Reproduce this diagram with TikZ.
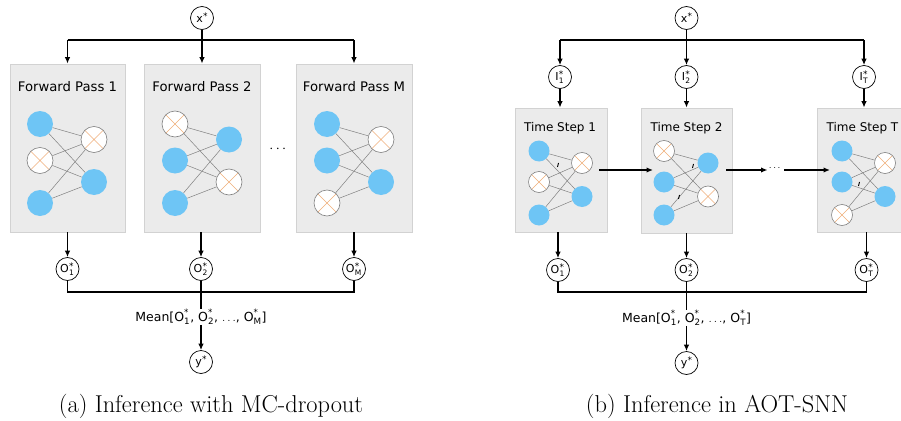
\documentclass[tikz,border=0pt]{standalone}
\usepackage{amsmath}
\usepackage{fontspec}
\usetikzlibrary{arrows.meta}
\newfontfamily\dv{DejaVu Sans}
\definecolor{boxfill}{HTML}{EBEBEB}
\definecolor{boxline}{HTML}{D2D2D2}
\definecolor{neuron}{HTML}{6EC5F5}
\definecolor{dropx}{HTML}{F0AE78}
\definecolor{edgegray}{HTML}{808080}
\newcommand\starlab[2]{#1\kern0.3pt\rlap{\raisebox{3.6pt}{\fontsize{9}{9}\selectfont *}}\raisebox{-2.6pt}{\fontsize{7.5}{8}\selectfont #2}\kern0.8pt}
\newcommand\staronly[1]{#1\kern0.3pt\raisebox{3.2pt}{\fontsize{9}{9}\selectfont *}}
\newcommand\mathlab[2]{$\text{#1}^{\text{*}}_{\text{#2}}$}
\begin{document}
\begin{tikzpicture}[x=1pt,y=-1pt,
  every node/.style={inner sep=0pt},
  conn/.style={line width=1.3pt},
  arr/.style={conn,-{Latex[length=6.5pt,width=5.5pt]}},
  io/.style={circle,draw,line width=0.7pt,minimum size=23pt,font=\fontsize{11}{13}\dv},
  panelbox/.style={rectangle,draw=boxline,fill=boxfill,line width=0.8pt},
  titlea/.style={font=\fontsize{13.2}{15}\dv},
  titleb/.style={font=\fontsize{12}{14}\dv},
  on/.style={circle,fill=neuron},
  off/.style={circle,draw=edgegray,fill=white,line width=0.6pt,
    path picture={\draw[dropx,line width=0.6pt]
      (path picture bounding box.north west) -- (path picture bounding box.south east)
      (path picture bounding box.north east) -- (path picture bounding box.south west);}},
  na/.style={minimum size=26pt},
  nb/.style={minimum size=21pt},
  edge/.style={draw=edgegray,line width=0.5pt},
  tickmark/.style={line width=0.9pt},
  meanlab/.style={font=\fontsize{12.5}{14}\dv},
  caption/.style={font=\fontsize{24.4}{29}\selectfont,anchor=base}]
\useasboundingbox (0,0) rectangle (901,420);

% ================= panel (a) =================
\node[io] (ax) at (202,18) {\staronly{x}};
\coordinate (asplit) at (202,40);
\coordinate (as1) at (67.5,40);
\coordinate (as3) at (354,40);
\node[panelbox,minimum width=115pt,minimum height=168pt] (ab1) at (67.5,148) {};
\node[panelbox,minimum width=116pt,minimum height=168pt] (ab2) at (202,148) {};
\node[panelbox,minimum width=116pt,minimum height=168pt] (ab3) at (354,148) {};
\node[titlea] (at1) at (67.5,87) {Forward Pass 1};
\node[titlea] (at2) at (202,87) {Forward Pass 2};
\node[titlea] (at3) at (354,87) {Forward Pass M};
\draw[conn] (ax) -- (asplit);
\draw[conn] (as1) -- (as3);
\draw[arr] (as1) -- (ab1);
\draw[arr] (asplit) -- (ab2);
\draw[arr] (as3) -- (ab3);

\foreach \p/\lx/\rx/\sa/\sb/\sc/\sd/\se in
  {a1/40/94/on/off/on/off/on, a2/175/229/off/on/on/on/off, a3/327/381/on/on/off/off/on}{
  \node[\sa,na] (\p l1) at (\lx,124) {};
  \node[\sb,na] (\p l2) at (\lx,160.5) {};
  \node[\sc,na] (\p l3) at (\lx,203) {};
  \node[\sd,na] (\p r1) at (\rx,139.5) {};
  \node[\se,na] (\p r2) at (\rx,182) {};
  \foreach \i in {1,2,3}{\foreach \j in {1,2}{\draw[edge] (\p l\i) -- (\p r\j);}}
}
\node (adots) at (279,149) {\fontsize{14}{14}\selectfont$\cdots$};

\node[io] (ao1) at (67.5,269) {\starlab{O}{1}};
\node[io] (ao2) at (201,269) {\starlab{O}{2}};
\node[io] (ao3) at (354,269) {\starlab{O}{M}};
\draw[arr] (ab1) -- (ao1);
\draw[arr] (ab2.south -| ao2) -- (ao2);
\draw[arr] (ab3) -- (ao3);
\coordinate (aj1) at (67.5,292);
\coordinate (aj3) at (354,292);
\draw[conn] (ao1) -- (aj1) -- (aj3) -- (ao3);
\node[meanlab] (amean) at (201,317) {Mean[\mathlab{O}{1}, \mathlab{O}{2}, $\ldots$, \mathlab{O}{M}]};
\draw[conn] (ao2) -- (amean);
\node[io] (ay) at (201,362) {\staronly{y}};
\draw[arr] (amean) -- (ay);
\node[caption] (capa) at (211,412) {(a) Inference with MC-dropout};

% ================= panel (b) =================
\node[io] (bx) at (686.5,18) {\staronly{x}};
\coordinate (bsplit) at (686.5,40);
\coordinate (bs1) at (560,40);
\coordinate (bs3) at (864,40);
\draw[conn] (bx) -- (bsplit);
\draw[conn] (bs1) -- (bs3);
\node[io] (bi1) at (560,77) {\starlab{I}{1}};
\node[io] (bi2) at (686.5,77) {\starlab{I}{2}};
\node[io] (bi3) at (864,77) {\starlab{I}{T}};
\draw[arr] (bs1) -- (bi1);
\draw[arr] (bsplit) -- (bi2);
\draw[arr] (bs3) -- (bi3);
\node[panelbox,minimum width=92pt,minimum height=124pt] (bb1) at (561,170) {};
\node[panelbox,minimum width=91pt,minimum height=125pt] (bb2) at (686.5,170.5) {};
\node[panelbox,minimum width=94pt,minimum height=124pt] (bb3) at (864,170) {};
\draw[arr] (bi1) -- (bi1 |- bb1.north);
\draw[arr] (bi2) -- (bb2);
\draw[arr] (bi3) -- (bb3);
\node[titleb] (bt1) at (560,128) {Time Step 1};
\node[titleb] (bt2) at (686.5,128) {Time Step 2};
\node[titleb] (bt3) at (862.5,128) {Time Step T};

\foreach \p/\lx/\rx/\sa/\sb/\sc/\sd/\se in
  {b1/539/582/on/off/on/off/on, b2/664/708/off/on/on/on/off, b3/842/885/on/on/off/off/on}{
  \node[\sa,nb] (\p l1) at (\lx,151) {};
  \node[\sb,nb] (\p l2) at (\lx,182) {};
  \node[\sc,nb] (\p l3) at (\lx,215) {};
  \node[\sd,nb] (\p r1) at (\rx,163) {};
  \node[\se,nb] (\p r2) at (\rx,196.5) {};
  \foreach \i in {1,2,3}{\foreach \j in {1,2}{\draw[edge] (\p l\i) -- (\p r\j);}}
}
\draw[tickmark] (558.5,163) -- (557.5,167);
\draw[tickmark] (693.5,164) -- (692.5,168);
\draw[tickmark] (679.5,195) -- (678.5,199);
\draw[tickmark] (859.5,182) -- (858.5,186);

\coordinate (bh1s) at (599,170);
\coordinate (bh1e) at (653,170);
\coordinate (bh2s) at (726,170);
\coordinate (bh2e) at (767.5,170);
\coordinate (bh3s) at (784,170);
\coordinate (bh3e) at (830,170);
\draw[arr] (bh1s) -- (bh1e);
\draw[arr] (bh2s) -- (bh2e);
\node (bdots) at (775.5,168.5) {\fontsize{10}{10}\selectfont$\cdots$};
\draw[arr] (bh3s) -- (bh3e);

\node[io] (bo1) at (558,270) {\starlab{O}{1}};
\node[io] (bo2) at (686.5,270) {\starlab{O}{2}};
\node[io] (bo3) at (866.5,270) {\starlab{O}{T}};
\draw[arr] (bb1.south -| bo1) -- (bo1);
\draw[arr] (bb2) -- (bo2);
\draw[arr] (bb3.south -| bo3) -- (bo3);
\coordinate (bj1) at (558,292);
\coordinate (bj3) at (866.5,292);
\draw[conn] (bo1) -- (bj1) -- (bj3) -- (bo3);
\node[meanlab] (bmean) at (686.5,318) {Mean[\mathlab{O}{1}, \mathlab{O}{2}, $\ldots$, \mathlab{O}{T}]};
\draw[conn] (bo2) -- (bmean);
\node[io] (by) at (686.5,363) {\staronly{y}};
\draw[arr] (bmean) -- (by);
\node[caption] (capb) at (717,412) {(b) Inference in AOT-SNN};
\end{tikzpicture}
\end{document}
